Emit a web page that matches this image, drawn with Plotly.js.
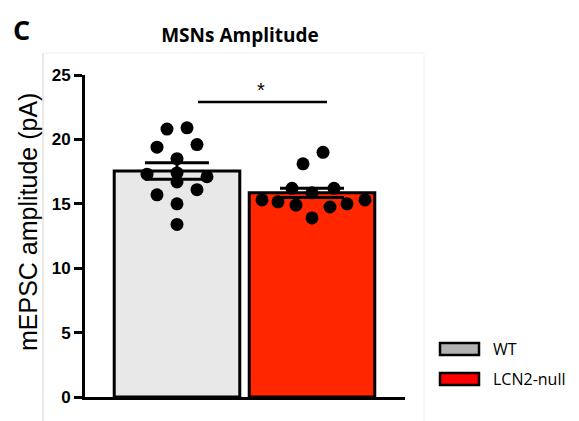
<!DOCTYPE html>
<html>
<head>
<meta charset="utf-8">
<script src="https://cdn.plot.ly/plotly-3.0.1.min.js"></script>
<style>
html,body{margin:0;padding:0;background:#fff;}
#chart{width:579px;height:421px;}
</style>
</head>
<body>
<div id="chart"></div>
<script>
// ---- data ----
var categories = ["WT", "LCN2-null"];
var means = [17.55, 15.85];
var sems = [0.64, 0.36];
var wtValues = [20.8, 20.9, 19.4, 19.6, 18.5, 17.3, 17.4, 17.1, 16.7, 15.7, 16.1, 15.0, 13.4];
var lcnValues = [19.0, 18.1, 16.2, 16.2, 15.85, 15.3, 15.15, 14.9, 14.75, 15.0, 15.3, 13.9];
var yTicks = [0, 5, 10, 15, 20, 25];
var sigLabel = "*";
var sigLevel = 22.9;

// ---- layout helpers (positions/styles) ----
var W = 579, H = 421;
var M = {l: 85, r: 174, t: 75, b: 24};
var pxPerCat = 135;
// horizontal scatter of the dots, in pixels
var wtJitter = [-10, 10, -20, 20, 0, -30, 0, 30, 0, -20, 20, 0, 0];
var lcnJitter = [11, -9, -20, 22, 0, -50, -34, -16, 18, 35, 53, 0];

var plotW = W - M.l - M.r, plotH = H - M.t - M.b;
function px2x(px){ return (px - M.l) / plotW; }
function py2y(py){ return (H - M.b - py) / plotH; }

var catIdx = categories.map(function(c, i){ return i; });
var barColors = ["#e8e8e8", "#ff2600"];

var bars = {
  type: "bar",
  x: catIdx,
  y: means,
  width: 0.93,
  marker: {color: barColors, line: {color: "#000", width: 3}},
  error_y: {type: "data", array: sems, visible: true, color: "#000", thickness: 3, width: 32},
  hoverinfo: "skip",
  showlegend: false
};

function dots(vals, jit, idx){
  return {
    type: "scatter",
    mode: "markers",
    x: vals.map(function(v, k){ return idx + jit[k] / pxPerCat; }),
    y: vals,
    marker: {color: "#000", size: 13, line: {width: 0}},
    cliponaxis: false,
    showlegend: false,
    hoverinfo: "skip"
  };
}

var traces = [bars, dots(wtValues, wtJitter, 0), dots(lcnValues, lcnJitter, 1)];

var xLeft = 0 - (177 - 85) / pxPerCat;
var xRight = 1 + (405 - 312) / pxPerCat;

var legendItems = [
  {label: categories[0], color: "#b3b1b1", y: 349},
  {label: categories[1], color: "#ff0000", y: 379}
];

var shapes = [
  // faint frame
  {type: "line", xref: "paper", yref: "paper", x0: px2x(43), x1: px2x(43), y0: py2y(53), y1: py2y(421), line: {color: "#d4d4d4", width: 1}},
  {type: "line", xref: "paper", yref: "paper", x0: px2x(43), x1: px2x(424), y0: py2y(53), y1: py2y(53), line: {color: "#f2f2f2", width: 1}},
  {type: "line", xref: "paper", yref: "paper", x0: px2x(424), x1: px2x(424), y0: py2y(53), y1: py2y(421), line: {color: "#f2f2f2", width: 1}},
  // significance bar
  {type: "line", xref: "x", yref: "y", x0: (198 - 177) / pxPerCat, x1: (327 - 177) / pxPerCat, y0: sigLevel, y1: sigLevel, line: {color: "#000", width: 2.5}}
];
var annotations = [
  {xref: "x", yref: "y", x: (260.5 - 177) / pxPerCat, y: sigLevel, yshift: 12, text: sigLabel, showarrow: false,
   font: {family: "Liberation Sans, Arial", size: 20, color: "#000"}},
  {xref: "paper", yref: "paper", x: px2x(21), y: py2y(29), text: "<b>C</b>", showarrow: false,
   xanchor: "center", yanchor: "middle", font: {family: "Open Sans", size: 27, color: "#000"}},
  {xref: "paper", yref: "paper", x: px2x(28), y: py2y(222), text: "mEPSC amplitude (pA)", showarrow: false,
   textangle: -90, xanchor: "center", yanchor: "middle", font: {family: "Liberation Sans, Arial", size: 25, color: "#000"}}
];
legendItems.forEach(function(it){
  shapes.push({type: "rect", xref: "paper", yref: "paper", x0: px2x(440), x1: px2x(479), y0: py2y(it.y - 6), y1: py2y(it.y + 6),
    fillcolor: it.color, line: {color: "#000", width: 2.5}});
  annotations.push({xref: "paper", yref: "paper", x: px2x(491), y: py2y(it.y), text: it.label, showarrow: false,
    xanchor: "left", yanchor: "middle", font: {family: "Open Sans", size: 16, color: "#000"}});
});

var layout = {
  width: W, height: H,
  margin: M,
  paper_bgcolor: "#fff", plot_bgcolor: "#fff",
  title: {text: "<b>MSNs Amplitude</b>", x: 240 / W, xanchor: "center", y: 1 - 35 / H, yanchor: "middle",
          font: {family: "Open Sans", size: 19, color: "#000"}},
  xaxis: {range: [xLeft, xRight], showline: true, linewidth: 3, linecolor: "#000", showgrid: false, zeroline: false,
          showticklabels: false, ticks: "", fixedrange: true},
  yaxis: {range: [0, 25], tickvals: yTicks, ticktext: yTicks.map(String), showline: true, linewidth: 3, linecolor: "#000",
          ticks: "outside", ticklen: 8, tickwidth: 3, tickcolor: "#000", showgrid: false, zeroline: false,
          tickfont: {family: "Liberation Sans, Arial", size: 17, color: "#000", weight: "bold"}, fixedrange: true},
  shapes: shapes,
  annotations: annotations,
  showlegend: false,
  bargap: 0
};

Plotly.newPlot("chart", traces, layout, {displayModeBar: false, staticPlot: true});
</script>
</body>
</html>
